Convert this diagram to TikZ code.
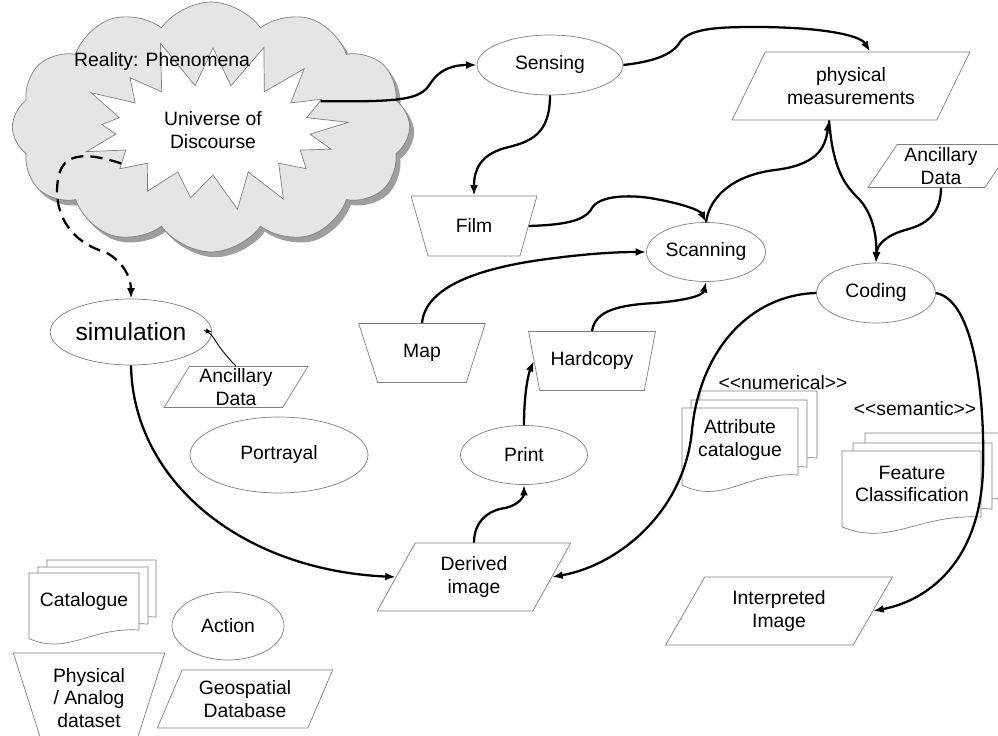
\documentclass[tikz,border=0pt]{standalone}
\usepackage{fontspec}
\setmainfont{Liberation Sans}
\usepackage{tikz}
\usetikzlibrary{arrows.meta,shapes.geometric,shapes.symbols,shadows}
\definecolor{edgegray}{gray}{0.5}
\definecolor{cloudgray}{gray}{0.9}
\definecolor{shadowgray}{gray}{0.62}

% one sheet of a document stack: left, top, width, height
\newcommand{\docpage}[4]{%
  \draw[page] (#1,#2) -- (#1+#3,#2) -- (#1+#3,#2+#4)
    .. controls (#1+0.55*#3,#2+0.95*#4) and (#1+0.35*#3,#2+1.45*#4) .. (#1,#2+1.15*#4) -- cycle;}

\begin{document}
\begin{tikzpicture}[x=0.02cm, y=-0.02cm,
      every node/.style={font=\fontsize{11}{13}\selectfont, align=center, inner sep=1pt},
      proc/.style={draw=edgegray, ellipse, fill=white,
                   minimum width=2.38cm, minimum height=1.18cm},
      media/.style={draw=edgegray, trapezium, trapezium angle=67, shape border rotate=180,
                    trapezium stretches, fill=white,
                    minimum width=2.54cm, minimum height=1.18cm},
      data/.style={draw=edgegray, trapezium, trapezium left angle=#1,
                   trapezium right angle={180-#1}, trapezium stretches, fill=white},
      data/.default=60,
      page/.style={draw=edgegray, fill=white},
      arr/.style={-{Latex[length=6pt,width=4.5pt]}, line width=1.3pt},
      thinarr/.style={-{Latex[length=3.5pt,width=3pt]}, line width=0.5pt}
  ]
    \useasboundingbox (0,0) rectangle (998,736);

    % reality
    \node[cloud, cloud puffs=12, cloud puff arc=110, aspect=1.8, draw=edgegray, fill=cloudgray,
          minimum width=7.95cm, minimum height=5cm,
          drop shadow={shadow xshift=2.5pt, shadow yshift=-3pt, fill=shadowgray, opacity=1}]
          (reality) at (211,127) {};
    \node[starburst, starburst points=17, starburst point height=1cm, random starburst=11,
          draw=edgegray, fill=white, minimum width=5.9cm, minimum height=3.8cm]
          (ub) at (213,130) {Universe of\\Discourse};
    \node (phen) at (162,62) {Reality: Phenomena};

    % document stacks
    \docpage{700}{391}{117}{67}
    \docpage{691}{400}{116}{67}
    \docpage{682}{408}{116}{67}
    \node (attr) at (740,440) {Attribute\\catalogue};
    \node (numer) at (783,383) {<\kern0pt<numerical>\kern0pt>};
    \docpage{865}{433}{139}{66}
    \docpage{853}{443}{139}{66}
    \docpage{842}{451}{139}{66}
    \node (feat) at (912,484) {Feature\\Classification};
    \node (seman) at (915,409) {<\kern0pt<semantic>\kern0pt>};
    \docpage{47}{560}{109}{57}
    \docpage{38}{567}{110}{57}
    \docpage{29}{573}{110}{57}
    \node (catal) at (84,602) {Catalogue};

    % processes
    \node[proc, minimum width=2.92cm, minimum height=1.2cm] (sens) at (550,65) {Sensing};
    \node[proc] (scan) at (706,252) {Scanning};
    \node[proc, minimum height=1.2cm] (coding) at (876,293) {Coding};
    \node[proc, minimum width=2.36cm, minimum height=1.32cm,
          font=\fontsize{14}{16}\selectfont] (sim) at (131,332) {simulation};
    \node[proc, minimum width=3.56cm, minimum height=1.52cm] (portray) at (279,455) {Portrayal};
    \node[proc, minimum width=2.54cm] (print) at (524,455) {Print};
    \node[proc, minimum width=2.24cm, minimum height=1.36cm] (action) at (228,626) {Action};

    % media
    \node[media, minimum width=2.52cm, minimum height=1.2cm] (film) at (474,226) {Film};
    \node[media] (map) at (422,353) {Map};
    \node[media] (hard) at (592,361) {Hardcopy};
    \node[media, trapezium angle=70, minimum width=3.04cm, minimum height=1.8cm]
          (analog) at (89,698) {Physical\\/ Analog\\dataset};

    % data
    \node[data=58, minimum width=4.76cm, minimum height=1.36cm] (pm) at (851,86) {physical\\measurements};
    \node[data=58, minimum width=2.92cm, minimum height=0.86cm] (anc1) at (941,166) {Ancillary\\Data};
    \node[data=63, minimum width=2.88cm, minimum height=0.82cm] (anc2) at (236,387) {Ancillary\\Data};
    \node[data=63, minimum width=3.88cm, minimum height=1.36cm] (derived) at (474,577) {Derived\\image};
    \node[data, minimum width=4.56cm, minimum height=1.36cm] (interp) at (779,611) {Interpreted\\Image};
    \node[data=65, minimum width=3.52cm, minimum height=1.16cm] (geodb) at (245,699) {Geospatial\\Database};

    % flows
    \draw[arr] (ub.15) .. controls (400,102) and (420,100) .. (430,84)
               .. controls (440,68) and (455,65) .. (sens.west);
    \draw[arr] (sens.east) .. controls (650,62) and (672,56) .. (680,42)
               .. controls (690,28) and (720,27) .. (755,27)
               .. controls (820,27) and (860,35) .. ([xshift=0.38cm]pm.north);
    \draw[arr] (sens.south) .. controls (550,135) and (530,142) .. (505,148)
               .. controls (480,155) and (474,170) .. (film.north);
    \draw[arr] (film.east) .. controls (560,225) and (585,222) .. (592,208)
               .. controls (600,195) and (630,195) .. (650,198)
               .. controls (680,203) and (700,210) .. (scan.north);
    \draw[arr] (scan.north) .. controls (710,195) and (735,175) .. (775,170)
               .. controls (815,165) and (825,150) .. ([xshift=-0.44cm]pm.south);
    \draw[arr] ([xshift=-0.44cm]pm.south) .. controls (833,170) and (845,185) .. (858,198)
               .. controls (872,212) and (877,235) .. (coding.north);
    \draw[arr] (anc1.south) .. controls (941,215) and (925,225) .. (905,230)
               .. controls (885,236) and (877,245) .. (coding.north);
    \draw[arr] (map.north) .. controls (425,290) and (470,270) .. (540,260)
               .. controls (590,253) and (620,252) .. (scan.west);
    \draw[arr] (hard.north) .. controls (595,310) and (620,305) .. (655,303)
               .. controls (690,300) and (703,295) .. (scan.south);
    \draw[arr] (print.north) .. controls (524,395) and (528,375) .. (hard.west);
    \draw[arr] (derived.north) .. controls (474,520) and (490,510) .. (505,508)
               .. controls (520,505) and (524,495) .. (print.south);
    \draw[arr] (coding.west) .. controls (750,295) and (700,350) .. (692,430)
               .. controls (685,510) and (620,565) .. (derived.east);
    \draw[arr] (coding.east) .. controls (975,300) and (985,400) .. (983,470)
               .. controls (980,560) and (930,600) .. (interp.east);
    \draw[arr] (sim.south) .. controls (133,480) and (240,570) .. (derived.west);
    \draw[thinarr] (anc2.north) .. controls (225,355) and (218,345) .. (213,337)
               .. controls (208,330) and (200,330) .. (sim.east);
    \draw[arr, dash pattern=on 7pt off 4pt] (ub.200) .. controls (65,145) and (58,165) .. (57,190)
               .. controls (57,225) and (80,245) .. (105,252)
               .. controls (125,262) and (131,280) .. (sim.north);
  \end{tikzpicture}
\end{document}
